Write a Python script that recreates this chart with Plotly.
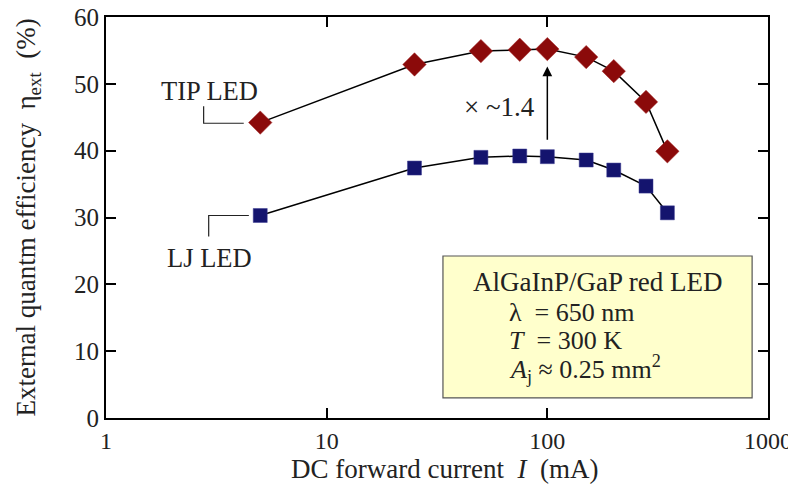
import plotly.graph_objects as go

current = [5, 25, 50, 75, 100, 150, 200, 280, 350]
tip_eff = [44.2, 52.9, 54.9, 55.1, 55.2, 54.0, 51.9, 47.3, 39.9]
lj_eff = [30.3, 37.4, 39.0, 39.2, 39.1, 38.6, 37.1, 34.7, 30.7]

x_ticks = [1, 10, 100, 1000]
y_ticks = [0, 10, 20, 30, 40, 50, 60]

FONT = "Liberation Serif, Times New Roman, serif"

fig = go.Figure()

fig.add_trace(go.Scatter(
    x=current, y=tip_eff, mode="lines+markers",
    line=dict(color="black", width=1.5),
    marker=dict(symbol="diamond", size=18, color="#8B0A0A",
                line=dict(color="#A02020", width=0.5)),
    showlegend=False, hoverinfo="skip"))
fig.add_trace(go.Scatter(
    x=current, y=lj_eff, mode="lines+markers",
    line=dict(color="black", width=1.5),
    marker=dict(symbol="square", size=14, color="#14146E",
                line=dict(color="#3A3A90", width=0.5)),
    showlegend=False, hoverinfo="skip"))

# leader lines for labels
fig.add_trace(go.Scatter(x=[2.77, 2.77, 4.21], y=[46.65, 44.1, 44.1], mode="lines",
                         line=dict(color="#222", width=1.2), showlegend=False, hoverinfo="skip"))
fig.add_trace(go.Scatter(x=[4.44, 2.92, 2.92], y=[30.3, 30.3, 27.15], mode="lines",
                         line=dict(color="#222", width=1.2), showlegend=False, hoverinfo="skip"))

fig.add_shape(type="rect", xref="paper", yref="paper", x0=0.509, x1=0.976, y0=0.05, y1=0.404,
              fillcolor="#FFFFCC", line=dict(color="#555", width=1.2), layer="below")

TS = 26.5
BS = 26
ann = [
    dict(x=0.47, y=48.9, xref="x", yref="y", text="TIP LED", showarrow=False,
         font=dict(size=TS)),
    dict(x=0.47, y=24.0, xref="x", yref="y", text="LJ LED", showarrow=False,
         font=dict(size=TS)),
    dict(x=1.783, y=46.5, xref="x", yref="y", text="× ~1.4", showarrow=False,
         font=dict(size=27)),
    dict(x=2, y=52.6, xref="x", yref="y", ax=2, ay=41.4, axref="x", ayref="y",
         text="", showarrow=True, arrowhead=2, arrowsize=1.3, arrowwidth=1.5, arrowcolor="black"),
    dict(x=0.743, y=0.339, xref="paper", yref="paper", xanchor="center", yanchor="middle",
         text="AlGaInP/GaP red LED", showarrow=False, font=dict(size=27)),
    dict(x=0.606, y=0.264, xref="paper", yref="paper", xanchor="left", yanchor="middle",
         text="λ  = 650 nm", showarrow=False, font=dict(size=BS)),
    dict(x=0.606, y=0.194, xref="paper", yref="paper", xanchor="left", yanchor="middle",
         text="<i>T</i>  = 300 K", showarrow=False, font=dict(size=BS)),
    dict(x=0.606, y=0.122, xref="paper", yref="paper", xanchor="left", yanchor="middle",
         text="<i>A</i><sub>j</sub> ≈ 0.25 mm<sup>2</sup>", showarrow=False, font=dict(size=BS)),
    # axis titles
    dict(x=-0.118, y=0.5, xref="paper", yref="paper", xanchor="center", yanchor="middle",
         textangle=-90, showarrow=False, font=dict(size=27),
         text="External quantm efficiency  η<sub>ext</sub>  (%)"),
    dict(x=0.512, y=-0.128, xref="paper", yref="paper", xanchor="center", yanchor="middle",
         showarrow=False, font=dict(size=27),
         text="DC forward current  <i>I</i>  (mA)"),
]

fig.update_layout(
    width=796, height=486,
    margin=dict(l=98, r=36, t=9, b=76),
    plot_bgcolor="white", paper_bgcolor="white",
    font=dict(family=FONT, size=24, color="#222"),
    annotations=ann,
    xaxis=dict(type="log", range=[0, 3], tickvals=x_ticks, ticktext=[str(v) for v in x_ticks],
               ticks="inside", ticklen=10, tickwidth=1.5, tickcolor="black",
               showline=True, linecolor="black", linewidth=2, mirror="ticks",
               showgrid=False, zeroline=False, ticklabeloverflow="allow", automargin=False,
               tickfont=dict(size=24)),
    yaxis=dict(range=[0, 60], tickvals=y_ticks,
               ticks="inside", ticklen=10, tickwidth=1.5, tickcolor="black",
               showline=True, linecolor="black", linewidth=2, mirror="ticks",
               showgrid=False, zeroline=False, ticklabeloverflow="allow", automargin=False,
               tickfont=dict(size=25)),
)

fig.write_html("out.html")
